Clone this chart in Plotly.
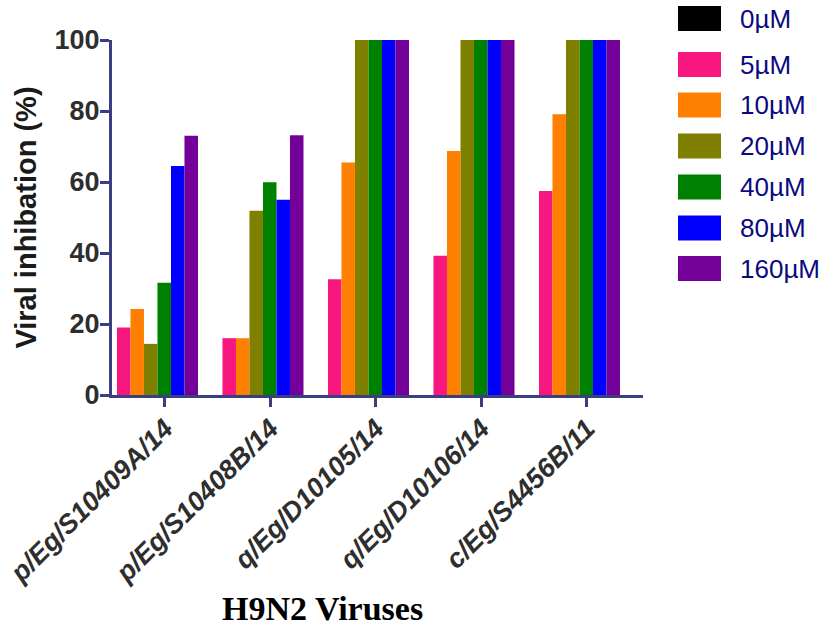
import plotly.graph_objects as go

# ---- data ----
viruses = ["p/Eg/S10409A/14", "p/Eg/S10408B/14", "q/Eg/D10105/14", "q/Eg/D10106/14", "c/Eg/S4456B/11"]
doses = ["0µM", "5µM", "10µM", "20µM", "40µM", "80µM", "160µM"]
inh_0 = [0, 0, 0, 0, 0]
inh_5 = [19.0, 16.0, 32.6, 39.2, 57.5]
inh_10 = [24.2, 16.0, 65.5, 68.7, 79.1]
inh_20 = [14.4, 51.9, 100, 100, 100]
inh_40 = [31.6, 59.9, 100, 100, 100]
inh_80 = [64.5, 55.0, 100, 100, 100]
inh_160 = [73.0, 73.2, 100, 100, 100]
y_ticks = [0, 20, 40, 60, 80, 100]

series = [inh_0, inh_5, inh_10, inh_20, inh_40, inh_80, inh_160]
colors = ["#000000", "#F7177F", "#FF8000", "#808000", "#008000", "#0000FF", "#74009A"]

# ---- layout geometry (page pixels; body margin removed) ----
W, H = 828, 629
L, R, T, B = 112, 643, 40, 395
pw, ph = R - L, B - T

def px_x(x):
    return (x - L) / pw

def px_y(y):
    return (B - y) / ph

BAR_W = 0.128
SHIFT = -0.135

fig = go.Figure()
for k, (name, vals, col) in enumerate(zip(doses, series, colors)):
    fig.add_trace(go.Bar(
        x=viruses, y=vals, name=name,
        marker=dict(color=col, line=dict(width=0)),
        width=BAR_W,
        offset=SHIFT - 3.5 * BAR_W + k * BAR_W,
        showlegend=False,
    ))

axis_col = "#3B3F82"
tick_col = "#2E2E2E"

fig.update_layout(
    width=W, height=H,
    margin=dict(l=L, r=W - R, t=T, b=H - B, autoexpand=False),
    plot_bgcolor="white", paper_bgcolor="white",
    barmode="overlay",
    font=dict(family="Liberation Sans, Arial, sans-serif"),
    xaxis=dict(
        type="category",
        range=[-0.502, 4.531],
        showline=True, linecolor=axis_col, linewidth=3,
        ticks="outside", ticklen=9, tickwidth=3, tickcolor=axis_col,
        tickangle=-45,
        ticklabelstandoff=-5,
        tickfont=dict(family="Liberation Sans, Arial, sans-serif", size=27,
                      color=tick_col, weight="bold", style="italic"),
        showgrid=False, zeroline=False,
    ),
    yaxis=dict(
        range=[0, 100],
        tickvals=y_ticks,
        showline=True, linecolor=axis_col, linewidth=3,
        ticks="outside", ticklen=9, tickwidth=3, tickcolor=axis_col,
        ticklabelstandoff=-5,
        tickfont=dict(family="Liberation Sans, Arial, sans-serif", size=27,
                      color=tick_col, weight="bold"),
        showgrid=False, zeroline=False,
        title=dict(text="Viral inhibation (%)", standoff=10,
                   font=dict(family="Liberation Sans, Arial, sans-serif", size=29,
                             color="#1A1A1A", weight="bold")),
    ),
)

# x-axis title
fig.add_annotation(
    text="H9N2 Viruses", xref="paper", yref="paper",
    x=px_x(322), y=px_y(608), xanchor="center", yanchor="middle",
    showarrow=False,
    font=dict(family="Liberation Serif, Times New Roman, serif", size=34,
              color="#000000", weight="bold"),
)

# legend (drawn)
row_centers = [18.5, 64.5, 105, 146, 187, 228, 268.5]
for name, col, cy in zip(doses, colors, row_centers):
    fig.add_shape(
        type="rect", xref="paper", yref="paper",
        x0=px_x(678), x1=px_x(721), y0=px_y(cy + 12.5), y1=px_y(cy - 12.5),
        fillcolor=col, line=dict(width=0),
    )
    fig.add_annotation(
        text=name, xref="paper", yref="paper",
        x=px_x(738), y=px_y(cy), xanchor="left", yanchor="middle",
        showarrow=False,
        font=dict(family="Liberation Sans, Arial, sans-serif", size=26, color="#0A0A80"),
    )

fig.write_html(
    "out.html",
    config={"displayModeBar": False},
    post_script="document.body.style.margin='0';document.body.style.padding='0';",
)
